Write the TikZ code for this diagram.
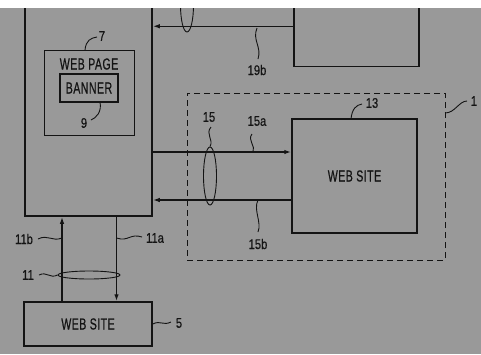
\documentclass[tikz,border=0pt]{standalone}
\usepackage{fontspec}
\newfontfamily\patfont[FakeStretch=0.66,LetterSpace=3,FakeBold=0.6]{Liberation Sans}
\newfontfamily\numfont[FakeStretch=0.8,FakeBold=0.5]{Liberation Sans}
\usetikzlibrary{arrows.meta,positioning,shapes.geometric}
\definecolor{ScanGray}{RGB}{153,153,153}
\definecolor{InkBlack}{RGB}{20,20,20}

\begin{document}
\begin{tikzpicture}[
  x=1pt, y=-1pt,
  block/.style={
    draw=InkBlack,
    line width=1.5pt,
    inner sep=0pt,
    text=InkBlack,
    font=\patfont\fontsize{16}{16}\selectfont
  },
  frame/.style={draw=InkBlack, dashed, dash pattern=on 6pt off 4pt, line width=0.9pt, inner sep=0pt},
  link/.style={draw=InkBlack, line width=1.5pt, -{Latex[length=7pt,width=4.5pt]}},
  lead/.style={draw=InkBlack, line width=0.9pt},
  bundle/.style={draw=InkBlack, ellipse, line width=0.9pt, inner sep=0pt},
  refnum/.style={font=\numfont\fontsize{14}{14}\selectfont, text=InkBlack, inner sep=0pt}
]
\useasboundingbox (0,0) rectangle (481,354);
\clip (0,0) rectangle (481,354);
\fill[ScanGray] (0,0) rectangle (481,354);

% client side
\node[block, minimum width=127, minimum height=236] (client) at (88.5,98) {};
\node[block, line width=1.4pt, minimum width=90, minimum height=85, anchor=north west] (page) at (44,50) {};
\node[text=InkBlack, inner sep=0pt, font=\patfont\fontsize{16}{16}\selectfont] (pagetitle) at (89,64) {WEB PAGE};
\node[block, line width=1.4pt, minimum width=58, minimum height=28] (banner) at (89,88) {BANNER};
\node[block, minimum width=128, minimum height=44] (home) at (88,324) {WEB SITE};

% upper site (cut by the page edge)
\node[block, minimum width=125, minimum height=100, anchor=south west] (topsite) at (293,67) {};

% advertising domain
\node[frame, minimum width=258, minimum height=167] (domain) at (316,176.5) {};
\node[block, minimum width=125, minimum height=114] (site) at (354.5,176) {WEB SITE};

% links
\coordinate (p19b) at ([yshift=-10pt]topsite.west);
\draw[link] (p19b) -- (p19b -| client.east);
\coordinate (p15a) at ([yshift=24pt]site.west);
\draw[link] (p15a -| client.east) -- (p15a);
\coordinate (p15b) at ([yshift=-24pt]site.west);
\draw[link] (p15b) -- (p15b -| client.east);
\coordinate (p11b) at ([xshift=-26pt]home.north);
\draw[link] (p11b) -- (p11b |- client.south);
\coordinate (p11a) at ([xshift=28pt]client.south);
\draw[link] (p11a) -- (p11a |- home.north);

% bundles
\node[bundle, minimum width=13, minimum height=58] (b15) at (210,176) {};
\node[bundle, minimum width=13, minimum height=54] (b19) at (187,5) {};
\node[bundle, minimum width=62, minimum height=8] (b11) at (89,275) {};

% reference numerals
\node[refnum] (n7) at (102,36) {7};
\draw[lead] (85,50) .. controls +(1,-10) and +(-6,1) .. (97,37);
\node[refnum] (n9) at (84,123) {9};
\draw[lead] (100,102) .. controls +(2,10) and +(5,-2) .. (91,120);
\node[refnum] (n13) at (372,103) {13};
\draw[lead] (351,119) .. controls +(1,-10) and +(-6,1) .. (362,104);
\node[refnum] (n1) at (474,101) {1};
\draw[lead] (445,113) .. controls +(10,0) and +(-8,0) .. (467,101);
\node[refnum] (n15) at (209,117) {15};
\draw[lead] (211,127) .. controls +(-6,7) and +(4,-7) .. (b15.north);
\node[refnum] (n15a) at (257,121) {15a};
\draw[lead] (252,134) .. controls +(-5,6) and +(3,-6) .. (253,152);
\node[refnum] (n15b) at (258,244) {15b};
\draw[lead] (258,200) .. controls +(-5,10) and +(4,-10) .. (258,232);
\node[refnum] (n19b) at (257,70) {19b};
\draw[lead] (257,28) .. controls +(-5,12) and +(4,-12) .. (258,59);
\node[refnum] (n11b) at (24,239) {11b};
\draw[lead] (38,239) .. controls +(10,-5) and +(-10,4) .. (p11b |- 0,238);
\node[refnum] (n11a) at (155,238) {11a};
\draw[lead] (p11a |- 0,238) .. controls +(12,4) and +(-12,-4) .. (142,237);
\node[refnum] (n11) at (28,275) {11};
\draw[lead] (39,275) .. controls +(8,-4) and +(-8,4) .. (b11.west);
\node[refnum] (n5) at (179,323) {5};
\draw[lead] (home.east) .. controls +(8,-4) and +(-8,4) .. (171,322);

% torn top edge of the scan
\fill[white] (0,0) rectangle (481,8);
\end{tikzpicture}
\end{document}
